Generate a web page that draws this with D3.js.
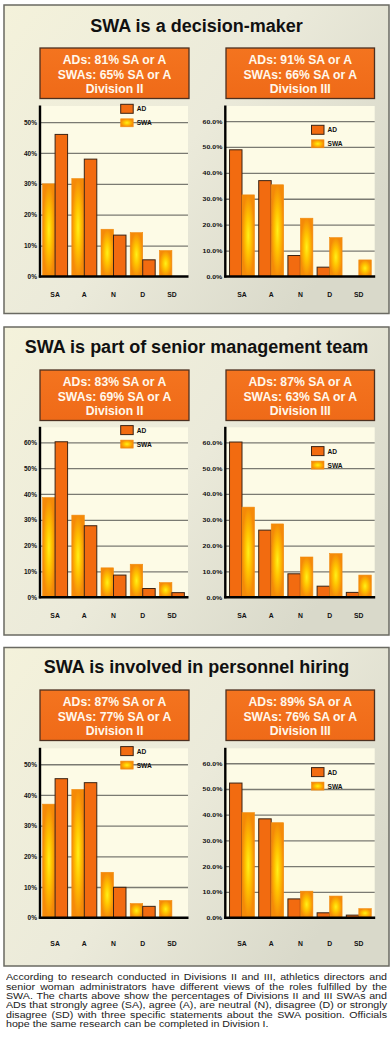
<!DOCTYPE html>
<html><head><meta charset="utf-8">
<script src="https://cdn.jsdelivr.net/npm/d3@7"></script>
<style>
html,body{margin:0;padding:0;background:#fff;}
#wrap{position:relative;width:392px;height:1061px;overflow:hidden;background:#fff;}
svg{position:absolute;left:0;top:0;}
#caption{position:absolute;left:6px;top:973.4px;width:381px;font-family:"Liberation Sans",Arial,sans-serif;font-size:9.2px;line-height:9.3px;color:#1a1a1a;transform-origin:0 0;}
#caption div{text-align:justify;text-align-last:justify;white-space:nowrap;}
#caption div.last{text-align-last:left;}
</style></head>
<body><div id="wrap"><svg id="chart" width="392" height="1061"></svg><div id="caption"></div></div>
<script>
// ---------- DATA ----------
const categories = ["SA", "A", "N", "D", "SD"];
const seriesNames = ["AD", "SWA"];
const panelTitles = ["SWA is a decision-maker", "SWA is part of senior management team", "SWA is involved in personnel hiring"];
const divisionNames = ["Division II", "Division III"];
const adAgreeTotals = [[81, 91], [83, 87], [87, 89]];
const swaAgreeTotals = [[65, 66], [69, 63], [77, 76]];

const decisionDiv2AD  = [46.0, 38.0, 13.4, 5.4, 0];
const decisionDiv2SWA = [30.0, 31.7, 15.3, 14.2, 8.4];
const decisionDiv3AD  = [48.9, 37.0, 8.1, 3.6, 0];
const decisionDiv3SWA = [31.5, 35.4, 22.5, 15.0, 6.4];

const seniorDiv2AD  = [60.2, 27.7, 8.6, 3.4, 1.8];
const seniorDiv2SWA = [38.6, 31.8, 11.4, 12.8, 5.7];
const seniorDiv3AD  = [60.1, 26.0, 9.1, 4.3, 1.9];
const seniorDiv3SWA = [34.9, 28.4, 15.6, 16.9, 8.6];

const hiringDiv2AD  = [45.3, 44.0, 9.9, 3.7, 0];
const hiringDiv2SWA = [37.0, 41.8, 14.8, 4.6, 5.6];
const hiringDiv3AD  = [52.3, 38.4, 7.3, 1.9, 1.0];
const hiringDiv3SWA = [40.8, 36.9, 10.3, 8.4, 3.5];

const ticksFifty = [0, 10, 20, 30, 40, 50];
const ticksSixty = [0, 10, 20, 30, 40, 50, 60];

const captionLines = [
  "According to research conducted in Divisions II and III, athletics directors and",
  "senior woman administrators have different views of the roles fulfilled by the",
  "SWA. The charts above show the percentages of Divisions II and III SWAs and",
  "ADs that strongly agree (SA), agree (A), are neutral (N), disagree (D) or strongly",
  "disagree (SD) with three specific statements about the SWA position. Officials",
  "hope the same research can be completed in Division I."
];

const panelData = [
  [{ad: decisionDiv2AD, swa: decisionDiv2SWA, ticks: ticksFifty}, {ad: decisionDiv3AD, swa: decisionDiv3SWA, ticks: ticksSixty}],
  [{ad: seniorDiv2AD, swa: seniorDiv2SWA, ticks: ticksSixty}, {ad: seniorDiv3AD, swa: seniorDiv3SWA, ticks: ticksSixty}],
  [{ad: hiringDiv2AD, swa: hiringDiv2SWA, ticks: ticksFifty}, {ad: hiringDiv3AD, swa: hiringDiv3SWA, ticks: ticksSixty}]
];

// ---------- LAYOUT ----------
const panelBox = [{top: 5, bottom: 313.5}, {top: 327, bottom: 635}, {top: 647.5, bottom: 966}];
const panelLeft = 4, panelRight = 389;
const plotTop = [106, 427.3, 748.3];
const plotBottom = [276.5, 597.3, 917.7];
const catLabelY = [296.5, 617.5, 945.8];
const titleY = [32.3, 353.3, 673.3];
const boxTop = [48, 370, 690];
const boxH = 50.5;
const divGeom = [
  {axisX: 40, plotRight: 188, bandL: 40.5, bandR: 186.5, boxL: 40, boxR: 189, legX: 120.7, legDy: -1.7},
  {axisX: 225.3, plotRight: 374.7, bandL: 227.4, bandR: 373.4, boxL: 226, boxR: 374.5, legX: 311.5, legDy: 19.3}
];
const FONT = '"Liberation Sans", Arial, Helvetica, sans-serif';

const svg = d3.select("#chart");
const defs = svg.append("defs");

const pg = defs.append("linearGradient").attr("id", "panelBg")
  .attr("x1", 0).attr("y1", 0).attr("x2", 1).attr("y2", 0.6);
pg.append("stop").attr("offset", 0).attr("stop-color", "#f4f2db");
pg.append("stop").attr("offset", 0.55).attr("stop-color", "#ebeada");
pg.append("stop").attr("offset", 1).attr("stop-color", "#d9d9ca");

const sg = defs.append("radialGradient").attr("id", "swaFill")
  .attr("cx", 0.5).attr("cy", 0.5).attr("r", 0.5);
sg.append("stop").attr("offset", 0).attr("stop-color", "#fff018");
sg.append("stop").attr("offset", 0.45).attr("stop-color", "#ffc400");
sg.append("stop").attr("offset", 1).attr("stop-color", "#f58a08");

const bg = defs.append("linearGradient").attr("id", "boxFill")
  .attr("x1", 0).attr("y1", 0).attr("x2", 0).attr("y2", 1);
bg.append("stop").attr("offset", 0).attr("stop-color", "#f4741f");
bg.append("stop").attr("offset", 1).attr("stop-color", "#ef6a18");

const AD_FILL = "#f26b10", AD_STROKE = "#3b2314";

panelData.forEach((divs, p) => {
  const g = svg.append("g");
  const pb = panelBox[p];
  g.append("rect").attr("x", panelLeft).attr("y", pb.top)
    .attr("width", panelRight - panelLeft).attr("height", pb.bottom - pb.top)
    .attr("fill", "url(#panelBg)").attr("stroke", "#6a6a62").attr("stroke-width", 1.5);

  g.append("text").attr("x", (panelLeft + panelRight) / 2).attr("y", titleY[p])
    .attr("text-anchor", "middle").attr("font-family", FONT).attr("font-weight", "bold")
    .attr("font-size", 18).attr("fill", "#111").text(panelTitles[p]);

  divs.forEach((d, k) => {
    const geo = divGeom[k];
    g.append("rect").attr("x", geo.boxL).attr("y", boxTop[p])
      .attr("width", geo.boxR - geo.boxL).attr("height", boxH)
      .attr("fill", "url(#boxFill)").attr("stroke", "#4d3020").attr("stroke-width", 1.3);
    const lines = [
      `ADs: ${adAgreeTotals[p][k]}% SA or A`,
      `SWAs: ${swaAgreeTotals[p][k]}% SA or A`,
      divisionNames[k]
    ];
    lines.forEach((t, li) => {
      g.append("text").attr("x", (geo.boxL + geo.boxR) / 2).attr("y", boxTop[p] + 16.2 + li * 14.3)
        .attr("text-anchor", "middle").attr("font-family", FONT).attr("font-weight", "bold")
        .attr("font-size", 12.2).attr("fill", "#fff8ec").text(t);
    });

    const yMax = d.ticks[d.ticks.length - 1] === 50 ? 55.2 : 65.8;
    const y = d3.scaleLinear().domain([0, yMax]).range([plotBottom[p], plotTop[p]]);
    const x = d3.scaleBand().domain(categories).range([geo.bandL, geo.bandR])
      .paddingInner(0.145).paddingOuter(0.0725);
    const order = k === 0 ? ["SWA", "AD"] : ["AD", "SWA"];
    const xs = d3.scaleBand().domain(order).range([0, x.bandwidth()]);

    g.append("rect").attr("x", geo.axisX).attr("y", plotTop[p])
      .attr("width", geo.plotRight - geo.axisX).attr("height", plotBottom[p] - plotTop[p])
      .attr("fill", "#fdfbe6");

    const fmt = k === 0 ? (v => v + "%") : (v => v.toFixed(1) + "%");
    const ax = g.append("g").attr("transform", `translate(${geo.axisX},0)`)
      .call(d3.axisLeft(y).tickValues(d.ticks).tickFormat(fmt).tickSize(0).tickPadding(3));
    ax.select(".domain").remove();
    ax.selectAll("text").attr("font-family", FONT).attr("font-weight", "bold")
      .attr("font-size", k === 0 ? 6.5 : 6.2).attr("fill", "#111")
      .attr("transform", k === 0 ? null : "scale(1.12,1)")
      .each(function() {
        if (k !== 0) { d3.select(this).attr("x", -3 / 1.12); }
      });
    const grid = g.append("g").attr("transform", `translate(${geo.axisX},0)`)
      .call(d3.axisRight(y).tickValues(d.ticks.filter(v => v > 0)).tickFormat("").tickSize(geo.plotRight - geo.axisX));
    grid.select(".domain").remove();
    grid.selectAll("line").attr("stroke", "#7a7a72").attr("stroke-width", 1.3);

    categories.forEach((c, i) => {
      order.forEach(s => {
        const v = s === "AD" ? d.ad[i] : d.swa[i];
        if (v <= 0) return;
        g.append("rect")
          .attr("x", x(c) + xs(s)).attr("y", y(v))
          .attr("width", xs.bandwidth()).attr("height", y(0) - y(v))
          .attr("fill", s === "AD" ? AD_FILL : "url(#swaFill)")
          .attr("stroke", s === "AD" ? AD_STROKE : "#f08a10")
          .attr("stroke-width", s === "AD" ? 1 : 0.6);
      });
    });

    g.append("line").attr("x1", geo.axisX).attr("x2", geo.axisX)
      .attr("y1", plotTop[p] - 0.5).attr("y2", plotBottom[p] + 1)
      .attr("stroke", "#000").attr("stroke-width", 2.4);
    g.append("line").attr("x1", geo.axisX - 1.2).attr("x2", geo.plotRight + 0.5)
      .attr("y1", y(0)).attr("y2", y(0))
      .attr("stroke", "#000").attr("stroke-width", 2.4);

    categories.forEach(c => {
      g.append("text").attr("x", x(c) + x.bandwidth() / 2).attr("y", catLabelY[p])
        .attr("text-anchor", "middle").attr("font-family", FONT).attr("font-weight", "bold")
        .attr("font-size", 6.8).attr("fill", "#111").text(c);
    });

    seriesNames.forEach((s, si) => {
      const ly = plotTop[p] + geo.legDy + si * 14;
      g.append("rect").attr("x", geo.legX).attr("y", ly + (s === "SWA" ? 0.5 : 0))
        .attr("width", 12.5).attr("height", s === "SWA" ? 8 : 9)
        .attr("fill", s === "AD" ? AD_FILL : "url(#swaFill)")
        .attr("stroke", s === "AD" ? AD_STROKE : "#f08a10").attr("stroke-width", s === "AD" ? 1 : 0.6);
      g.append("text").attr("x", geo.legX + 16).attr("y", ly + 7)
        .attr("font-family", FONT).attr("font-weight", "bold").attr("font-size", 6.6)
        .attr("fill", "#111").text(s);
    });
  });
});

// caption: keep the font size matching the line pitch, stretch horizontally to fill the column
const ctx = document.createElement("canvas").getContext("2d");
ctx.font = '9.2px "Liberation Sans", Arial, sans-serif';
const maxW = d3.max(captionLines, t => ctx.measureText(t).width);
const sx = 378 / maxW;
const cap = d3.select("#caption")
  .style("transform", `scale(${sx.toFixed(4)},1)`)
  .style("width", (381 / sx).toFixed(2) + "px");
captionLines.forEach((t, i) => {
  cap.append("div").attr("class", i === captionLines.length - 1 ? "last" : null).text(t);
});
</script>
</body></html>
